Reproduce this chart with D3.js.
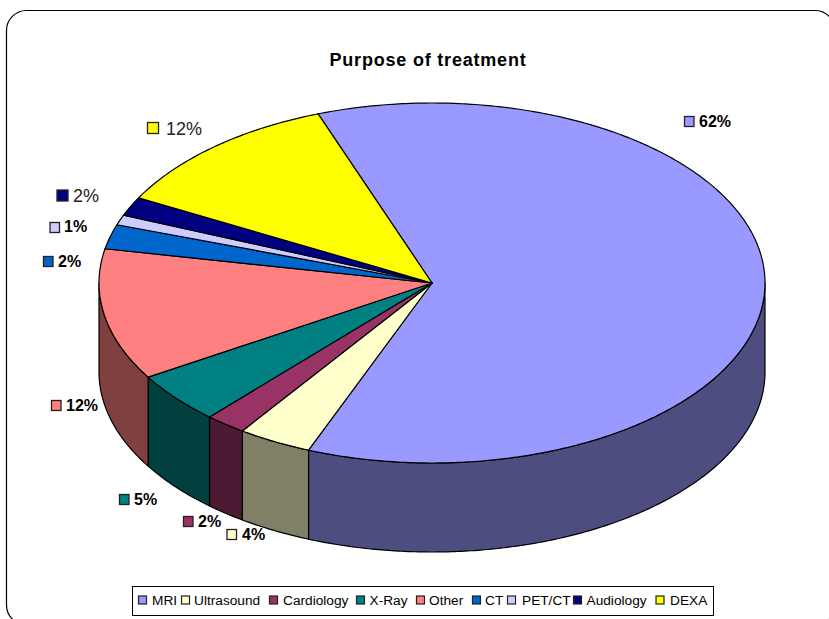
<!DOCTYPE html>
<html><head><meta charset="utf-8">
<script src="https://cdn.jsdelivr.net/npm/d3@7/dist/d3.min.js"></script>
<style>html,body{margin:0;padding:0;background:#fff}svg{display:block}text{font-family:"Liberation Sans",Arial,sans-serif;fill:#000}</style>
</head><body><svg id="c" width="829" height="619"></svg>
<script>
const categories=["MRI","Ultrasound","Cardiology","X-Ray","Other","CT","PET/CT","Audiology","DEXA"];
const values=[61.6,3.6,2.0,4.6,11.8,2.2,0.9,1.7,11.6];
const percentLabels=["62%","4%","2%","5%","12%","2%","1%","2%","12%"];
const topColors=["#9999FF","#FFFFCC","#993366","#008080","#FF8080","#0066CC","#CCCCFF","#000080","#FFFF00"];
const sideColors=["#4D4D80","#808066","#4D1A33","#004040","#804040","#003366","#666680","#000040","#808000"];
// layout: swatch x, swatch y, text x, baseline, large regular type?
const labelLayout=[[684,116,699,127,0],[226.5,529,242,540,0],[183,516,198,527,0],[119,494,134,505,0],[51,400,66,411,0],[43,256,58,266.5,0],[49.5,222,64,232,0],[56.5,189.5,73,201.5,1],[147,122,166,135,1]];
const legendSwatchX=[138,181,269,356,416,472,507,573,655.5];
const legendTextX=[152,194,283,369.5,429,485,522,586.5,670];

const cx=432,cy=283,rx=333,ry=180,depth=89;
const svg=d3.select("#c");
svg.append("path").attr("fill","#fff").attr("stroke","#000").attr("stroke-width",1.2)
 .attr("d",(()=>{const p=d3.path();const l=6.5,t=10.5,r=835,b=625,k=20;
  p.moveTo(l+k,t);p.lineTo(r-k,t);p.arcTo(r,t,r,t+k,k);p.lineTo(r,b-k);p.arcTo(r,b,r-k,b,k);p.lineTo(l+k,b);p.arcTo(l,b,l,b-k,k);p.lineTo(l,t+k);p.arcTo(l,t,l+k,t,k);p.closePath();return p.toString();})());

svg.append("text").attr("x",428).attr("y",66).attr("text-anchor","middle")
 .attr("font-size",18).attr("letter-spacing",0.8).attr("font-weight","bold").text("Purpose of treatment");

const pie=d3.pie().sort(null).startAngle(-20*Math.PI/180).endAngle(340*Math.PI/180);
const slices=pie(values);
const xS=d3.scaleLinear().domain([-1,1]).range([cx-rx,cx+rx]);
const yS=d3.scaleLinear().domain([-1,1]).range([cy-ry,cy+ry]);
const pt=(a,dy=0)=>[xS(Math.sin(a)),yS(-Math.cos(a))+dy];
const line=d3.line();
function samples(a0,a1){const n=Math.max(2,Math.ceil((a1-a0)/0.01));return d3.range(n+1).map(i=>a0+(a1-a0)*i/n);}

const g=svg.append("g");
slices.forEach((s,i)=>{
  const a0=Math.max(s.startAngle,Math.PI/2),a1=Math.min(s.endAngle,3*Math.PI/2);
  if(a1<=a0) return;
  const as=samples(a0,a1);
  const pts=as.map(a=>pt(a)).concat(as.slice().reverse().map(a=>pt(a,depth)));
  g.append("path").attr("d",line(pts)+"Z").attr("fill",sideColors[i]).attr("stroke","#000").attr("stroke-width",1.2).attr("stroke-linejoin","round");
});
slices.forEach((s,i)=>{
  const pts=[[cx,cy]].concat(samples(s.startAngle,s.endAngle).map(a=>pt(a)));
  g.append("path").attr("d",line(pts)+"Z").attr("fill",topColors[i]).attr("stroke","#000").attr("stroke-width",1.2).attr("stroke-linejoin","round");
});

labelLayout.forEach((l,i)=>{
  const big=l[4]===1;
  svg.append("rect").attr("x",l[0]+.5).attr("y",l[1]+.5).attr("width",big?11:9.5).attr("height",big?11:10)
    .attr("fill",topColors[i]).attr("stroke","#222").attr("stroke-width",1.3);
  svg.append("text").attr("x",l[2]).attr("y",l[3]).attr("font-size",big?18:16)
    .attr("font-weight",big?"normal":"bold").style("fill",big?"#222":"#000").text(percentLabels[i]);
});

const lg=svg.append("g");
lg.append("rect").attr("x",132.5).attr("y",586.5).attr("width",581).attr("height",29).attr("fill","#fff").attr("stroke","#000").attr("stroke-width",1);
categories.forEach((c,i)=>{
  lg.append("rect").attr("x",legendSwatchX[i]+.5).attr("y",596).attr("width",8).attr("height",8).attr("fill",topColors[i]).attr("stroke","#222").attr("stroke-width",1.2);
  lg.append("text").attr("x",legendTextX[i]).attr("y",605).attr("font-size",13.7).text(c);
});
</script></body></html>
